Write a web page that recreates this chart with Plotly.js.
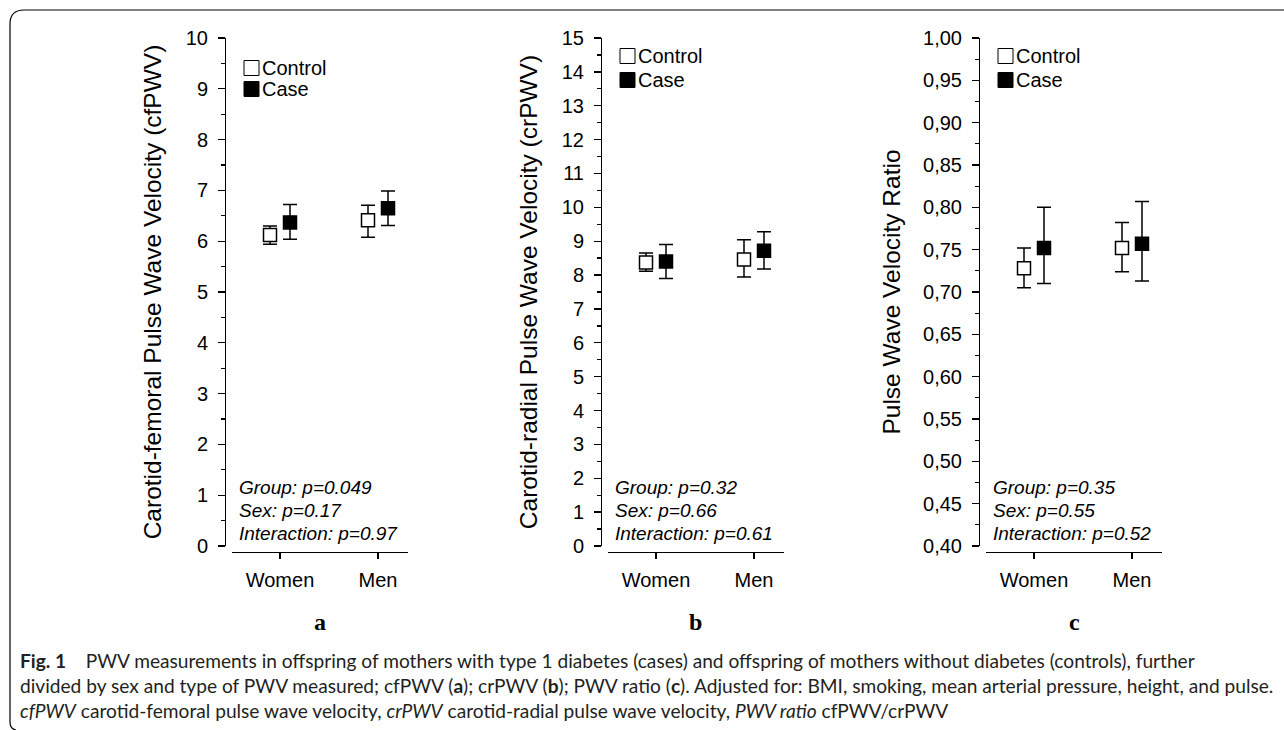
<!DOCTYPE html>
<html>
<head>
<meta charset="utf-8">
<script src="https://cdn.plot.ly/plotly-3.0.1.min.js"></script>
<style>
html,body{margin:0;padding:0;background:#ffffff;}
#chart{width:1284px;height:730px;}
</style>
</head>
<body>
<div id="chart"></div>
<script>
// ---------- data ----------
const categories = ['Women', 'Men'];
const seriesNames = ['Control', 'Case'];

// (a) carotid-femoral PWV
const cfControl     = [6.12, 6.41];
const cfControlLow  = [5.94, 6.08];
const cfControlHigh = [6.30, 6.71];
const cfCase        = [6.37, 6.65];
const cfCaseLow     = [6.04, 6.31];
const cfCaseHigh    = [6.72, 6.99];

// (b) carotid-radial PWV
const crControl     = [8.37, 8.46];
const crControlLow  = [8.11, 7.94];
const crControlHigh = [8.65, 9.04];
const crCase        = [8.40, 8.72];
const crCaseLow     = [7.90, 8.18];
const crCaseHigh    = [8.90, 9.28];

// (c) PWV ratio
const ratioControl     = [0.728, 0.752];
const ratioControlLow  = [0.705, 0.724];
const ratioControlHigh = [0.752, 0.782];
const ratioCase        = [0.752, 0.757];
const ratioCaseLow     = [0.710, 0.713];
const ratioCaseHigh    = [0.800, 0.807];

const statsA = ['Group: p=0.049', 'Sex: p=0.17', 'Interaction: p=0.97'];
const statsB = ['Group: p=0.32', 'Sex: p=0.66', 'Interaction: p=0.61'];
const statsC = ['Group: p=0.35', 'Sex: p=0.55', 'Interaction: p=0.52'];

const yTitles = [
  'Carotid-femoral Pulse Wave Velocity (cfPWV)',
  'Carotid-radial Pulse Wave Velocity (crPWV)',
  'Pulse Wave Velocity Ratio'
];
const panelLetters = ['a', 'b', 'c'];

const captionLines = [
  '<b>Fig. 1</b>\u00a0\u00a0\u00a0\u00a0PWV measurements in offspring of mothers with type 1 diabetes (cases) and offspring of mothers without diabetes (controls), further',
  'divided by sex and type of PWV measured; cfPWV (<b>a</b>); crPWV (<b>b</b>); PWV ratio (<b>c</b>). Adjusted for: BMI, smoking, mean arterial pressure, height, and pulse.',
  '<i>cfPWV</i> carotid-femoral pulse wave velocity, <i>crPWV</i> carotid-radial pulse wave velocity, <i>PWV ratio</i> cfPWV/crPWV'
];

// ---------- layout helpers ----------
const W = 1284, H = 730;
const fx = p => p / W;
const fy = p => 1 - p / H;
const FONT = 'Liberation Sans, Arial, sans-serif';

const panels = [
  {mean: [cfControl, cfCase], low: [cfControlLow, cfCaseLow], high: [cfControlHigh, cfCaseHigh],
   yRange: [0, 10], dtick: 1, minor: 0.5, fmt: 'd', stats: statsA,
   yAxisPx: 225, xLinePx: [232, 408], catPx: [280, 378], legendRows: [68, 89], standoff: 16},
  {mean: [crControl, crCase], low: [crControlLow, crCaseLow], high: [crControlHigh, crCaseHigh],
   yRange: [0, 15], dtick: 1, minor: 0.5, fmt: 'd', stats: statsB,
   yAxisPx: 601, xLinePx: [608, 784], catPx: [656, 754], legendRows: [56, 80], standoff: 16},
  {mean: [ratioControl, ratioCase], low: [ratioControlLow, ratioCaseLow], high: [ratioControlHigh, ratioCaseHigh],
   yRange: [0.40, 1.00], dtick: 0.05, minor: 0.025, fmt: '.2f', stats: statsC,
   yAxisPx: 979, xLinePx: [986, 1162], catPx: [1034, 1132], legendRows: [56, 80], standoff: 14}
];

const PLOT_TOP = 38, PLOT_BOTTOM = 546, XLINE = 552;
const markerFill = ['#ffffff', '#000000'];

const traces = [];
const layout = {
  width: W, height: H,
  margin: {l: 0, r: 0, t: 0, b: 0},
  paper_bgcolor: '#ffffff', plot_bgcolor: 'rgba(0,0,0,0)',
  font: {family: FONT, color: '#000000', size: 20},
  separators: ', ',
  scattermode: 'group',
  scattergap: 0.592,
  showlegend: false,
  annotations: [],
  shapes: []
};

panels.forEach((p, i) => {
  const n = i + 1;
  const xa = n === 1 ? 'x' : 'x' + n;
  const ya = n === 1 ? 'y' : 'y' + n;

  seriesNames.forEach((name, s) => {
    const mean = p.mean[s];
    traces.push({
      type: 'scatter', mode: 'markers',
      x: categories, y: mean, name: name,
      xaxis: xa, yaxis: ya, showlegend: false,
      cliponaxis: false, hoverinfo: 'skip',
      marker: {symbol: 'square', size: 13, color: markerFill[s],
               line: {color: '#000000', width: 1.5}},
      error_y: {type: 'data', symmetric: false,
                array: p.high[s].map((h, k) => h - mean[k]),
                arrayminus: mean.map((v, k) => v - p.low[s][k]),
                color: '#000000', thickness: 1.5, width: 7}
    });
  });

  const [x0, x1] = p.xLinePx;
  const [cw, cm] = p.catPx;
  const step = cm - cw;
  layout[n === 1 ? 'xaxis' : 'xaxis' + n] = {
    domain: [fx(x0), fx(x1)], anchor: 'free', position: fy(XLINE),
    type: 'category', categoryorder: 'array', categoryarray: categories,
    range: [-(cw - x0) / step, 1 + (x1 - cm) / step],
    showline: true, linecolor: '#000000', linewidth: 1.3,
    ticks: 'outside', ticklen: 6, tickwidth: 1.3, tickcolor: '#000000',
    ticklabelstandoff: 4,
    tickfont: {family: FONT, size: 20, color: '#000000'},
    showgrid: false, zeroline: false, fixedrange: true
  };
  layout[n === 1 ? 'yaxis' : 'yaxis' + n] = {
    domain: [fy(PLOT_BOTTOM), fy(PLOT_TOP)], anchor: 'free', position: fx(p.yAxisPx),
    range: p.yRange, tickmode: 'linear', tick0: p.yRange[0], dtick: p.dtick, tickformat: p.fmt,
    showline: true, linecolor: '#000000', linewidth: 1.3,
    ticks: 'outside', ticklen: 7, tickwidth: 1.3, tickcolor: '#000000',
    ticklabelstandoff: 6,
    minor: {dtick: p.minor, ticks: 'outside', ticklen: 4, tickwidth: 1.3, tickcolor: '#000000'},
    tickfont: {family: FONT, size: 20, color: '#000000'},
    title: {text: yTitles[i], font: {family: FONT, size: 24.5, color: '#000000'}, standoff: p.standoff},
    showgrid: false, zeroline: false, fixedrange: true
  };

  // legend key (Control / Case)
  seriesNames.forEach((name, s) => {
    const cy = p.legendRows[s];
    layout.shapes.push({
      type: 'rect', xref: 'paper', yref: 'paper',
      x0: fx(p.yAxisPx + 19), x1: fx(p.yAxisPx + 34),
      y0: fy(cy + 7.5), y1: fy(cy - 7.5),
      fillcolor: markerFill[s], line: {color: '#000000', width: 1}
    });
    layout.annotations.push({
      xref: 'paper', yref: 'paper', x: fx(p.yAxisPx + 35), y: fy(cy),
      xanchor: 'left', yanchor: 'middle', showarrow: false, text: name,
      font: {family: FONT, size: 20, color: '#000000'}
    });
  });

  const statY = [487, 510, 533];
  p.stats.forEach((t, k) => {
    layout.annotations.push({
      xref: 'paper', yref: 'paper', x: fx(p.yAxisPx + 12), y: fy(statY[k]),
      xanchor: 'left', yanchor: 'middle', showarrow: false, text: t,
      font: {family: FONT, size: 19, color: '#000000', style: 'italic'}
    });
  });

  layout.annotations.push({
    xref: 'paper', yref: 'paper', x: fx((x0 + x1) / 2), y: fy(622),
    xanchor: 'center', yanchor: 'middle', showarrow: false, text: '<b>' + panelLetters[i] + '</b>',
    font: {family: 'Liberation Serif, Times New Roman, serif', size: 24, color: '#000000'}
  });
});

const captionY = [660, 685, 710];
captionLines.forEach((t, k) => {
  layout.annotations.push({
    xref: 'paper', yref: 'paper', x: fx(18), y: fy(captionY[k]),
    xanchor: 'left', yanchor: 'middle', showarrow: false, text: t,
    font: {family: 'Lato, Open Sans, sans-serif', size: 19.15, color: '#231f20'}
  });
});

// rounded frame (top + left edges)
layout.shapes.push({
  type: 'path', xref: 'paper', yref: 'paper',
  path: 'M ' + fx(1284) + ',' + fy(10) + ' L ' + fx(24) + ',' + fy(10) +
        ' Q ' + fx(10) + ',' + fy(10) + ' ' + fx(10) + ',' + fy(24) +
        ' L ' + fx(10) + ',' + fy(722) +
        ' Q ' + fx(10) + ',' + fy(729) + ' ' + fx(16) + ',' + fy(730),
  line: {color: '#000000', width: 1.2}
});

Plotly.newPlot('chart', traces, layout, {displayModeBar: false, staticPlot: true});
</script>
</body>
</html>
